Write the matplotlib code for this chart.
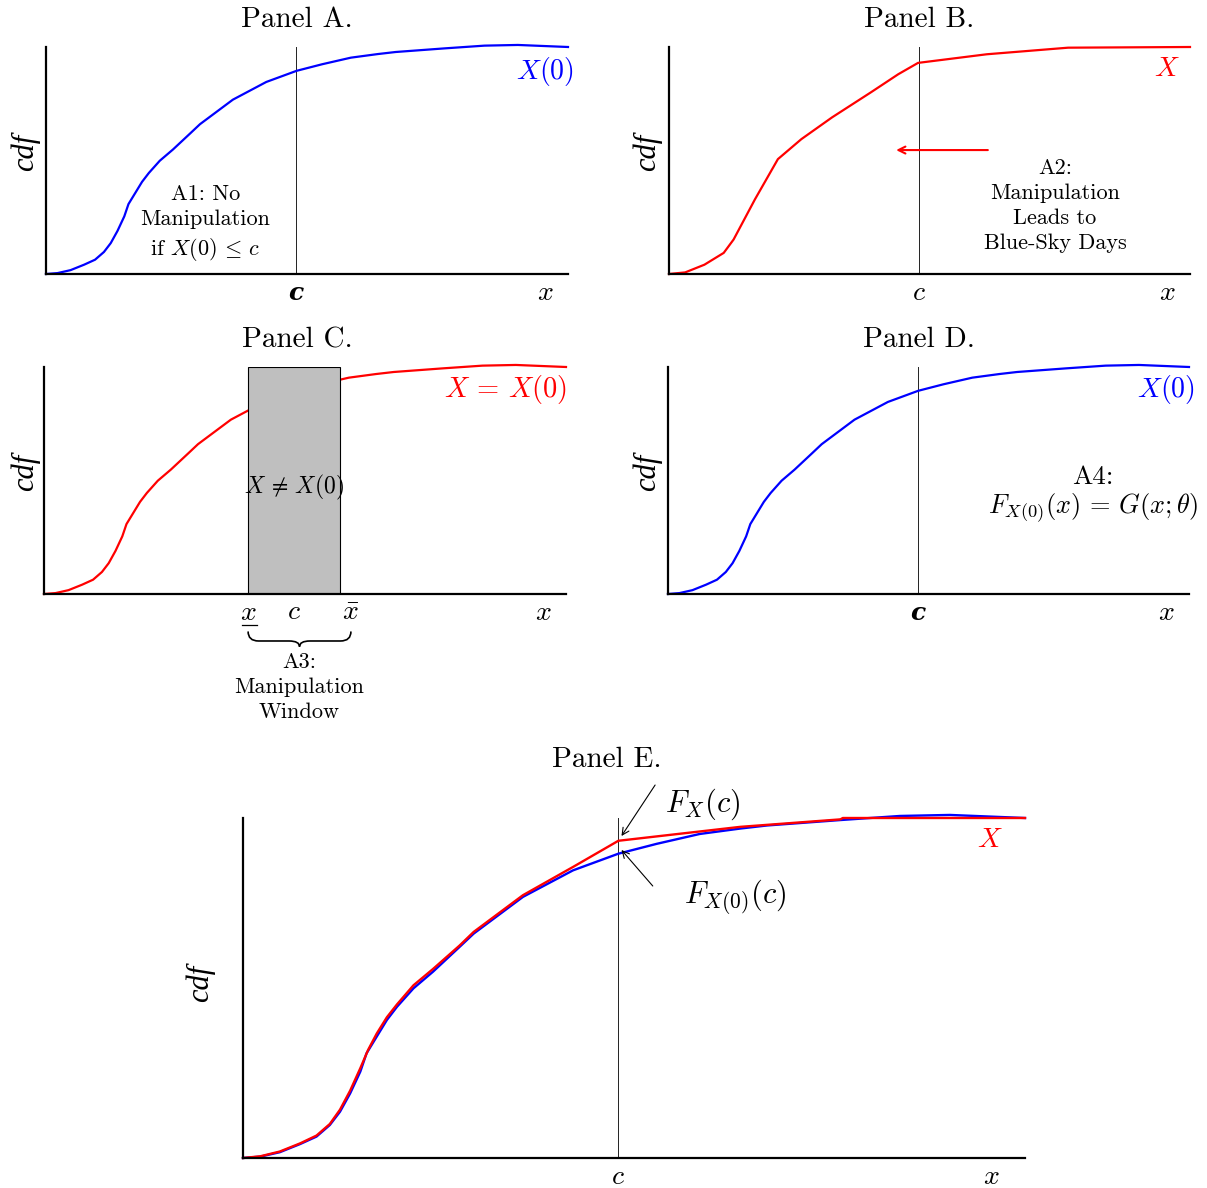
import matplotlib
matplotlib.use("Agg")
import matplotlib.pyplot as plt
from matplotlib.patches import Rectangle, PathPatch
from matplotlib.path import Path

plt.rcParams["font.family"] = ["cmr10", "DejaVu Serif"]
plt.rcParams["mathtext.fontset"] = "cm"
plt.rcParams["axes.unicode_minus"] = False
plt.rcParams["axes.formatter.use_mathtext"] = True

# ---- data: normalised cdf curves (x in [0,1], cdf in [0,1]) ----
# potential outcome X(0)
x0_grid = [0.0, 0.022, 0.047, 0.073, 0.094, 0.111, 0.124, 0.137, 0.150, 0.158,
           0.171, 0.184, 0.197, 0.218, 0.243, 0.277, 0.295, 0.358, 0.422, 0.480,
           0.529, 0.584, 0.636, 0.670, 0.764, 0.840, 0.904, 1.0]
cdf_x0 = [0.0, 0.004, 0.017, 0.041, 0.063, 0.097, 0.136, 0.190, 0.254, 0.308,
          0.357, 0.406, 0.445, 0.499, 0.548, 0.621, 0.660, 0.768, 0.846, 0.895,
          0.924, 0.953, 0.969, 0.978, 0.994, 1.006, 1.009, 1.0]

# observed X, panel B sketch
xb_grid = [0.0, 0.031, 0.068, 0.105, 0.124, 0.165, 0.209, 0.254, 0.313, 0.388,
           0.440, 0.478, 0.610, 0.766, 1.0]
cdf_xb = [0.0, 0.007, 0.041, 0.093, 0.152, 0.329, 0.506, 0.594, 0.690, 0.801,
          0.880, 0.930, 0.968, 0.997, 1.0]

# observed X, panel E
xe_grid = [0.0, 0.022, 0.047, 0.073, 0.094, 0.111, 0.124, 0.137, 0.150, 0.160,
           0.171, 0.184, 0.197, 0.218, 0.243, 0.277, 0.295, 0.358, 0.422, 0.480,
           0.636, 0.764, 0.767, 1.0]
cdf_xe = [0.0, 0.005, 0.019, 0.043, 0.066, 0.100, 0.142, 0.198, 0.264, 0.318,
          0.366, 0.414, 0.452, 0.508, 0.556, 0.625, 0.665, 0.773, 0.856, 0.933,
          0.974, 0.996, 1.0, 1.0]

cutoff = 0.479            # threshold c
window_lo = 0.391         # lower end of manipulation window
window_hi = 0.567         # upper end of shaded window
window_hi_label = 0.588   # position of the x-bar label

BLUE = "#0000ff"
RED = "#ff0000"
W, H = 1207, 1188

fig = plt.figure(figsize=(W / 100, H / 100), dpi=100)


def px(x, y):
    return x / W, 1 - y / H


def make_axes(left, top, right, bottom):
    ax = fig.add_axes([left / W, 1 - bottom / H, (right - left) / W, (bottom - top) / H])
    ax.set_xlim(0, 1)
    ax.set_ylim(0, 1)
    for s in ("top", "right"):
        ax.spines[s].set_visible(False)
    for s in ("left", "bottom"):
        ax.spines[s].set_linewidth(1.6)
        ax.spines[s].set_zorder(5)
    ax.set_xticks([])
    ax.set_yticks([])
    ax.patch.set_alpha(0)
    return ax


def cline(ax):
    ax.plot([cutoff, cutoff], [0, 1], color="#222222", lw=0.7, zorder=2)


def ylabel(x, y):
    fig.text(*px(x, y), "cdf", rotation=90, ha="center", va="center", fontsize=22,
             family=["Liberation Serif", "DejaVu Serif"], style="italic")


TITLE_FS = 21
MATH_FS = 20
NOTE_FS = 16
NOTE_LS = 1.36
TICK_Y = -0.085

# ---- Panel A ----
axA = make_axes(46, 47, 568, 274)
axA.plot(x0_grid, cdf_x0, color=BLUE, lw=1.6, clip_on=False, zorder=3)
cline(axA)
fig.text(*px(297, 20), "Panel A.", ha="center", va="center", fontsize=TITLE_FS)
ylabel(25, 152)
axA.text(1.012, 0.89, r"$X(0)$", color=BLUE, ha="right", va="center", fontsize=MATH_FS)
axA.text(0.305, 0.22, "A1: No\nManipulation\nif $X(0)\\,\\leq\\,c$", ha="center",
         va="center", fontsize=NOTE_FS, linespacing=NOTE_LS)
axA.text(cutoff, TICK_Y, "c", ha="center", va="center", fontsize=18,
         family="DejaVu Serif", style="italic", weight="bold")
axA.text(0.956, TICK_Y, r"$x$", ha="center", va="center", fontsize=MATH_FS)

# ---- Panel B ----
axB = make_axes(669, 47, 1190, 274)
axB.plot(xb_grid, cdf_xb, color=RED, lw=1.6, clip_on=False, zorder=3)
cline(axB)
fig.text(*px(919, 20), "Panel B.", ha="center", va="center", fontsize=TITLE_FS)
ylabel(647, 152)
axB.text(0.956, 0.903, r"$X$", color=RED, ha="center", va="center", fontsize=MATH_FS)
axB.annotate("", xy=(0.436, 0.546), xytext=(0.612, 0.546),
             arrowprops=dict(arrowstyle="->,head_length=0.5,head_width=0.25", color=RED,
                             lw=1.5, shrinkA=0, shrinkB=0))
axB.text(0.741, 0.302, "A2:\nManipulation\nLeads to\nBlue-Sky Days", ha="center",
         va="center", fontsize=NOTE_FS, linespacing=NOTE_LS)
axB.text(cutoff, TICK_Y, r"$c$", ha="center", va="center", fontsize=MATH_FS)
axB.text(0.956, TICK_Y, r"$x$", ha="center", va="center", fontsize=MATH_FS)

# ---- Panel C ----
axC = make_axes(44, 367, 566, 594)
axC.plot(x0_grid, cdf_x0, color=RED, lw=1.6, clip_on=False, zorder=3)
axC.add_patch(Rectangle((window_lo, 0), window_hi - window_lo, 1, facecolor="#bfbfbf",
                        edgecolor="black", lw=0.8, zorder=4))
fig.text(*px(297, 340), "Panel C.", ha="center", va="center", fontsize=TITLE_FS)
ylabel(25, 472)
axC.text(1.003, 0.899, r"$X\,=\,X(0)$", color=RED, ha="right", va="center", fontsize=20.5)
axC.text(0.479, 0.471, r"$X\,\neq\,X(0)$", ha="center", va="center", fontsize=17, zorder=6)
axC.text(window_lo, TICK_Y, r"$x$", ha="center", va="center", fontsize=MATH_FS)
axC.plot([window_lo - 0.012, window_lo + 0.018], [TICK_Y - 0.052, TICK_Y - 0.052],
         color="black", lw=0.9, clip_on=False)
axC.text(cutoff, TICK_Y + 0.005, r"$c$", ha="center", va="center", fontsize=MATH_FS)
axC.text(window_hi_label, TICK_Y, r"$\bar{x}$", ha="center", va="center", fontsize=MATH_FS)
axC.text(0.956, TICK_Y, r"$x$", ha="center", va="center", fontsize=MATH_FS)

# curly brace under the window
bl, br = window_lo, window_hi_label
bm = (bl + br) / 2
ytop, ymid, ybot = -0.165, -0.207, -0.232
r = 0.02
verts = [(bl, ytop), (bl, ymid), (bl + r, ymid),
         (bm - r, ymid), (bm, ymid), (bm, ybot),
         (bm, ymid), (bm + r, ymid),
         (br - r, ymid), (br, ymid), (br, ytop)]
codes = [Path.MOVETO, Path.CURVE3, Path.CURVE3,
         Path.LINETO, Path.CURVE3, Path.CURVE3,
         Path.CURVE3, Path.CURVE3,
         Path.LINETO, Path.CURVE3, Path.CURVE3]
axC.add_patch(PathPatch(Path(verts, codes), facecolor="none", edgecolor="black",
                        lw=1.2, clip_on=False))
axC.text(bm, -0.41, "A3:\nManipulation\nWindow", ha="center", va="center",
         fontsize=NOTE_FS, linespacing=NOTE_LS)

# ---- Panel D ----
axD = make_axes(668, 367, 1189, 594)
axD.plot(x0_grid, cdf_x0, color=BLUE, lw=1.6, clip_on=False, zorder=3)
cline(axD)
fig.text(*px(919, 340), "Panel D.", ha="center", va="center", fontsize=TITLE_FS)
ylabel(647, 472)
axD.text(1.012, 0.899, r"$X(0)$", color=BLUE, ha="right", va="center", fontsize=MATH_FS)
axD.text(0.816, 0.515, "A4:", ha="center", va="center", fontsize=19.5)
axD.text(0.816, 0.375, r"$F_{X(0)}(x)\,=\,G(x;\theta)$", ha="center", va="center",
         fontsize=19)
axD.text(cutoff, TICK_Y, "c", ha="center", va="center", fontsize=18,
         family="DejaVu Serif", style="italic", weight="bold")
axD.text(0.956, TICK_Y, r"$x$", ha="center", va="center", fontsize=MATH_FS)

# ---- Panel E ----
axE = make_axes(243, 818, 1025, 1158)
axE.plot(x0_grid, cdf_x0, color=BLUE, lw=1.7, clip_on=False, zorder=3)
axE.plot(xe_grid, cdf_xe, color=RED, lw=1.7, clip_on=False, zorder=3)
cline(axE)
fig.text(*px(607, 760), "Panel E.", ha="center", va="center", fontsize=TITLE_FS)
ylabel(200, 983)
axE.text(0.955, 0.935, r"$X$", color=RED, ha="center", va="center", fontsize=MATH_FS)
arrow = dict(arrowstyle="->,head_length=0.5,head_width=0.25", color="black", lw=0.8,
             shrinkA=0, shrinkB=0)
axE.annotate("", xy=(0.484, 0.947), xytext=(0.527, 1.097), arrowprops=arrow,
             annotation_clip=False)
axE.annotate("", xy=(0.484, 0.906), xytext=(0.524, 0.80), arrowprops=arrow,
             annotation_clip=False)
axE.text(0.540, 1.04, r"$F_X(c)$", ha="left", va="center", fontsize=22)
axE.text(0.564, 0.768, r"$F_{X(0)}(c)$", ha="left", va="center", fontsize=22)
axE.text(cutoff, -0.056, r"$c$", ha="center", va="center", fontsize=MATH_FS)
axE.text(0.957, -0.056, r"$x$", ha="center", va="center", fontsize=MATH_FS)

fig.savefig("out.png", dpi=100, facecolor="white")
